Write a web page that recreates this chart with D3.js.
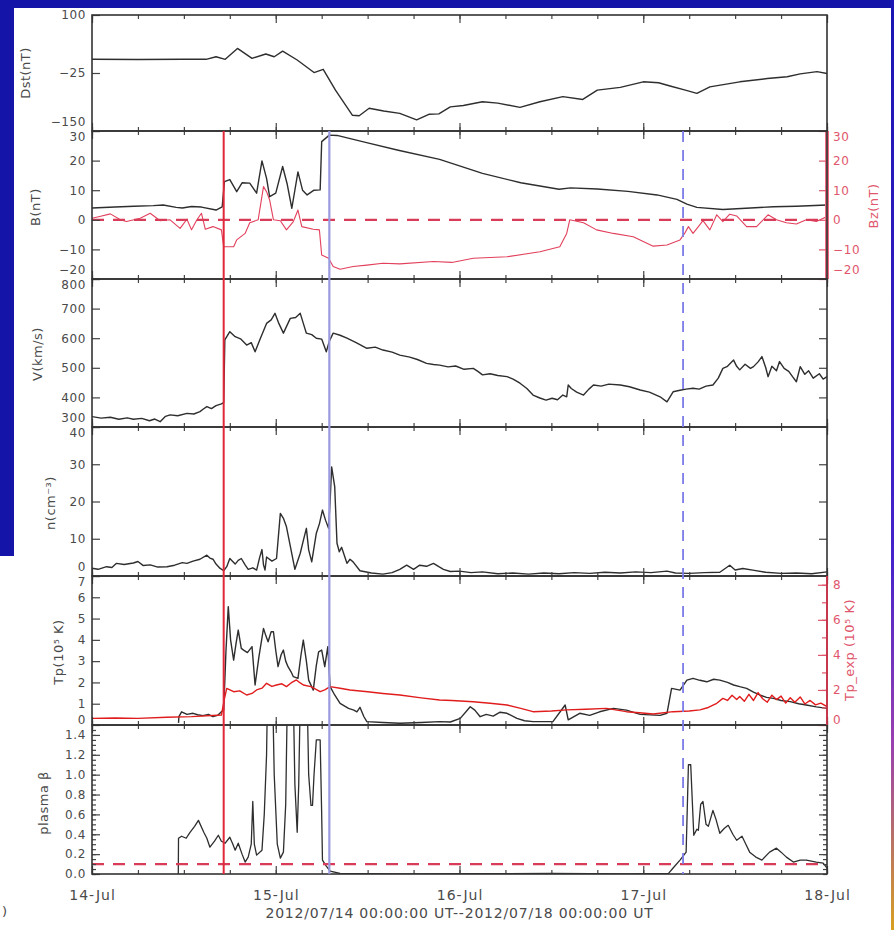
<!DOCTYPE html>
<html lang="en">
<head>
<meta charset="utf-8">
<title>Solar wind overview 2012/07/14 - 2012/07/18</title>
<script src="https://d3js.org/d3.v7.min.js"></script>
<style>
  body { margin: 0; background: #1414a8; }
  svg { display: block; }
  .tick text { font-family: "DejaVu Sans", sans-serif; font-size: 12px; fill: #4a4a4a; letter-spacing: 0.6px; }
  .tick line { stroke: #444; stroke-width: 1.2; }
  .title { font-family: "DejaVu Sans", sans-serif; font-size: 13px; fill: #4a4a4a; letter-spacing: 0.5px; }
  .red .tick text, .red-title { fill: #e0566c; }
  .red .tick line { stroke: #e0566c; }
</style>
</head>
<body>
<script>
// ---- data (hours since 2012-07-14 00:00 UT) ----
const dayLabels = ["14-Jul", "15-Jul", "16-Jul", "17-Jul", "18-Jul"];
const timeRangeLabel = "2012/07/14 00:00:00 UT--2012/07/18 00:00:00 UT";
const shockHour = 17.2, mcStartHour = 31.0, mcEndHour = 77.2;

const dst = [[0,4.5],[6,4],[12,4.5],[14.9,4.5],[16.2,10],[17.4,4.5],[19,28],[20.9,6.6],[22.7,16],[23.8,10],[24.9,22],
  [26.8,3],[29,-24],[30.2,-17],[31.8,-62],[34,-116],[34.9,-117],[36.2,-101],[38.1,-107],[40.2,-112],[42.4,-126],[44,-114],
  [45.3,-113],[46.8,-98],[48.5,-95],[51,-87],[53,-90],[55.9,-99],[58.5,-87],[61.5,-76],[64.1,-82],[66,-62],[69,-56],
  [72,-44],[74,-46],[75.5,-53],[77.5,-62],[79,-69],[80.7,-55],[84.6,-44],[88.2,-37],[90.8,-33],[92.5,-27],[94.7,-22],[96,-26]];

const bTotal = [[0,4],[3,4.3],[5.5,4.6],[8,4.8],[9.3,5],[11,4.2],[11.8,4],[13,4.5],[14.3,4.3],[16.2,3.3],[17,4.4],
  [17.3,12.9],[18,13.6],[18.9,9.5],[19.6,12.5],[20.6,12.4],[21.5,9],[22.2,19.9],[22.8,14],[23.2,7.8],[24,9],[24.9,18],
  [25.5,12],[26.1,3.9],[26.9,16.2],[27.5,10],[28.1,8.4],[29,10],[29.8,10.1],[30,26.4],[31,28.6],[32,28.5],[36,26],
  [40,23.5],[45.4,20.4],[51,15.7],[56,12.5],[61,10.3],[62.5,10.8],[66,10.4],[70,9.6],[73.8,8.4],[76.4,6.9],[77.7,5.3],
  [79,4.2],[82.4,3.5],[86,4.0],[89,4.4],[92,4.6],[96,5.0]];

const bz = [[0,0.5],[1,1.1],[2.4,2.0],[3.7,0],[4.5,-0.6],[6.3,0.5],[7.6,2.2],[8.9,-0.3],[10.2,0],[11.5,-2.9],[12.4,0.2],
  [13,-3.4],[13.7,0],[14.3,2.2],[14.8,-3.2],[15.8,-2.3],[16.9,-3.4],[17.2,-9.1],[18.5,-9.1],[18.9,-6.8],[20,-4.6],
  [20.6,-1.0],[21.7,0],[22.4,11.2],[22.8,9.5],[23.2,6.7],[23.7,0],[24.6,-0.3],[25.4,-3.4],[26.3,-0.6],[26.9,3.3],
  [27.4,-2.3],[28.9,-3.2],[29.7,-3.4],[30,-11.9],[30.9,-13],[31.5,-15.8],[32.4,-16.7],[34.1,-15.8],[35.9,-15.3],
  [38,-14.7],[40.2,-14.9],[44.6,-14.1],[47,-14.4],[49.8,-13],[54.2,-12.5],[58.5,-10.8],[61.1,-9.1],[62,-4.6],[62.4,0],
  [64.2,-1.0],[65.9,-3.4],[68.1,-4.6],[70.7,-5.7],[73.3,-8.9],[75.1,-8.5],[76.8,-6.8],[77.4,-4.6],[77.9,-2.3],[78.5,-4.6],
  [79.2,-2.3],[79.8,-0.3],[80.7,-3.4],[81.6,1.7],[82.4,-0.6],[83.3,1.9],[84.2,1.3],[85.5,-2.3],[86.8,-2.3],[88.3,1.7],
  [89.4,0],[90.7,-1.0],[92,-1.4],[93.3,0],[94.6,-0.6],[96,1.1]];

const speed = [[0,335],[1.2,330],[2.4,333],[3.5,326],[4.6,331],[5.4,326],[6.5,329],[7.5,321],[8.2,327],[8.9,318],[9.6,336],
  [10.2,341],[11.2,338],[12.4,346],[13.3,344],[14.1,352],[14.5,360],[15,369],[15.6,362],[16.2,372],[16.9,378],[17.2,382],
  [17.35,594],[18,622],[18.7,605],[19.4,598],[20.2,577],[20.8,585],[21.3,554],[22,600],[22.8,650],[23.4,662],[23.9,684],
  [24.4,650],[25,617],[25.5,645],[25.9,667],[26.6,670],[27.2,684],[27.6,650],[28,617],[28.7,612],[29.3,600],[30,597],
  [30.6,554],[31,590],[31.5,617],[32.4,610],[33.3,600],[34.5,585],[35.9,566],[37,570],[38,560],[39.2,553],[40.2,543],
  [41.5,536],[42.5,528],[43.7,515],[44.6,511],[45.4,509],[46.5,503],[47.5,506],[48.6,495],[49.8,498],[50.4,488],[51,476],
  [52,480],[53,474],[54.2,470],[55,462],[55.9,448],[56.8,430],[57.6,408],[58.5,398],[59.3,391],[60.1,397],[60.8,392],
  [61.5,408],[62,402],[62.2,442],[62.6,430],[63.3,418],[64.2,408],[64.9,428],[65.5,442],[66.5,438],[67.5,445],[69,442],
  [70.2,436],[71.6,425],[72.8,418],[74.2,402],[75.1,385],[75.9,419],[76.8,424],[77.6,428],[78.5,431],[79.3,428],[80.2,438],
  [81.1,442],[81.8,465],[82.4,498],[83,505],[83.8,526],[84.2,505],[84.6,493],[85.3,512],[86,498],[86.4,504],[87,520],
  [87.5,538],[88,500],[88.3,470],[88.8,505],[89.4,490],[89.8,521],[90.4,498],[91,488],[91.5,470],[92,453],[92.5,504],
  [93.1,478],[93.6,490],[94.2,465],[95,480],[95.5,462],[96,470]];

const density = [[0,2.1],[0.8,1.8],[1.9,2.5],[2.6,2.3],[3.2,3.4],[4.2,3.1],[5.4,3.5],[6,3.9],[6.7,2.8],[7.6,3.0],[8.6,2.4],
  [9.8,2.5],[10.8,2.9],[11.8,3.6],[12.4,3.4],[13.2,4.0],[14.1,4.5],[15,5.6],[15.4,4.8],[15.8,4.5],[16.2,3.2],[16.7,2.1],
  [17.2,1.4],[17.6,2.5],[18,4.7],[18.7,3.2],[19.1,4.2],[19.5,4.7],[20,3.0],[20.4,1.8],[21,2.2],[21.5,1.6],[21.9,5.0],
  [22.2,7.1],[22.4,3.0],[22.6,1.6],[22.8,5.1],[23.5,4.0],[24.1,4.7],[24.6,16.8],[25,15.5],[25.4,13.2],[25.9,8.0],
  [26.5,1.8],[27.2,6.1],[27.6,9.5],[28,12.8],[28.3,7.0],[28.7,3.8],[29.3,11.5],[29.7,14.0],[30.1,17.7],[30.5,15.0],
  [30.9,12.8],[31.1,20.0],[31.3,29.3],[31.7,24.0],[32,8.8],[32.3,6.5],[32.6,7.7],[33.3,3.4],[33.7,4.5],[34.1,3.8],
  [35,1.4],[36.5,0.8],[38,0.5],[39.2,0.9],[40.2,1.8],[41.1,2.9],[42,1.8],[42.8,2.9],[43.7,2.6],[44.6,3.4],[45.3,2.5],
  [45.9,1.8],[46.8,1.2],[48,1.3],[49.5,0.9],[51,1.1],[53,0.6],[55,0.8],[57,0.5],[59,0.8],[61,0.6],[63,0.9],[65,0.7],
  [67,1.0],[69,0.8],[71,1.1],[73,0.9],[75.1,1.3],[76.2,0.8],[78,0.7],[80,0.9],[82,1.0],[83.3,2.9],[84,1.6],[85,2.0],
  [86.5,1.5],[88,1.0],[90,0.7],[92,0.8],[94,0.6],[96,1.1]];

const tp = [[11.3,0.1],[11.35,0.39],[11.7,0.62],[12.4,0.5],[13.2,0.55],[13.8,0.48],[14.5,0.44],[15.2,0.5],[15.8,0.39],
  [16.4,0.45],[16.9,0.62],[17.2,0.7],[17.5,3.5],[17.8,5.56],[18.1,4.0],[18.5,3.05],[18.8,3.8],[19.1,4.46],[19.5,3.6],
  [19.8,3.52],[20.3,3.4],[20.9,3.68],[21.3,1.88],[21.8,3.2],[22.4,4.54],[22.7,4.2],[23,3.91],[23.4,4.38],[23.7,4.38],
  [24,3.5],[24.3,2.74],[24.7,3.3],[25,3.52],[25.3,3.0],[25.6,2.74],[26,2.5],[26.3,2.27],[26.9,2.19],[27.3,3.3],[27.6,3.99],
  [28,3.0],[28.3,2.11],[28.9,1.64],[29.3,2.8],[29.6,3.44],[30,3.52],[30.4,2.74],[30.8,3.68],[31.1,1.8],[31.7,1.41],
  [32.4,1.02],[33.5,0.78],[34.2,0.7],[34.6,0.62],[35,0.83],[35.5,0.4],[35.9,0.16],[38,0.12],[40.2,0.08],[43,0.12],
  [45.4,0.16],[46.8,0.14],[48.1,0.31],[49.4,0.86],[50,0.7],[50.7,0.39],[51.5,0.5],[52.4,0.42],[53.3,0.6],[54.2,0.55],
  [55.5,0.31],[56.5,0.2],[57.6,0.16],[60.2,0.16],[61.8,0.94],[62.2,0.24],[63.7,0.55],[65,0.45],[66.3,0.62],[68.1,0.78],
  [69.8,0.7],[71.6,0.5],[74.2,0.45],[75.1,0.55],[75.7,1.72],[76.8,1.64],[77.7,2.11],[78.5,2.19],[79.4,2.1],[80.3,2.03],
  [81.2,2.15],[82,2.11],[83,2.0],[83.8,1.88],[84.6,1.8],[85.5,1.72],[86.4,1.55],[87.2,1.41],[88.1,1.3],[89,1.25],
  [90,1.15],[91.2,1.1],[92.3,1.0],[93.3,0.94],[94.6,0.85],[96,0.78]];

const tpExp = [[0,0.38],[3,0.4],[6,0.38],[9.8,0.44],[13,0.48],[16.9,0.57],[17.3,1.5],[17.6,2.09],[18.5,1.9],[19.3,1.95],
  [20.2,1.71],[20.9,1.8],[21.5,2.0],[22.2,2.1],[22.8,2.38],[23.5,2.2],[24.1,2.28],[24.8,2.35],[25.4,2.19],[26,2.4],
  [26.7,2.57],[27.2,2.4],[27.6,2.28],[28.6,2.19],[29.2,2.05],[29.8,1.9],[30.4,2.0],[31.1,2.19],[32.4,2.1],[33.7,2.0],
  [36,1.9],[38,1.8],[40.2,1.71],[43,1.55],[45.4,1.43],[47,1.4],[49.8,1.33],[52,1.24],[54.2,1.14],[56,0.95],[57.6,0.76],
  [60,0.8],[62,0.86],[64.5,0.9],[67.2,0.95],[69.8,0.76],[71.5,0.7],[73.3,0.63],[75.9,0.76],[78,0.8],[79.4,0.86],
  [80.5,1.0],[81.6,1.24],[82.4,1.52],[83,1.4],[83.6,1.7],[84.2,1.45],[84.6,1.62],[85.2,1.35],[85.8,1.75],[86.4,1.4],
  [87,1.85],[87.6,1.5],[88.2,1.3],[88.8,1.7],[89.4,1.45],[90,1.65],[90.6,1.25],[91.2,1.55],[91.8,1.3],[92.5,1.6],
  [93.1,1.2],[93.8,1.4],[94.5,1.15],[95.2,1.25],[96,1.05]];

const beta = [[11.27,0],[11.3,0.36],[11.7,0.38],[12.3,0.36],[12.8,0.42],[13.4,0.48],[13.9,0.54],[14.6,0.42],[15,0.36],
  [15.4,0.27],[16,0.33],[16.5,0.39],[16.9,0.33],[17.4,0.31],[18,0.37],[18.4,0.3],[18.7,0.24],[19.1,0.31],[19.6,0.2],
  [20,0.12],[20.4,0.17],[20.8,0.3],[21,0.73],[21.2,0.3],[21.5,0.19],[22.2,0.24],[22.5,0.6],[22.8,1.2],[23,2.2],[23.5,2.2],
  [23.8,1.0],[24.2,0.3],[24.6,0.16],[25,0.22],[25.3,0.7],[25.6,2.2],[26.2,2.2],[26.5,0.9],[26.8,0.42],[27,0.9],[27.3,2.2],
  [28,2.2],[28.3,1.0],[28.6,0.69],[28.8,0.69],[29,1.0],[29.3,1.35],[29.8,1.35],[30,0.6],[30.1,0.14],[30.6,0.08],
  [31.1,0.03],[32.4,0.005],[40,0],[50,0.004],[60,0.005],[70,0],[75.3,0.007],[75.9,0.06],[76.8,0.14],[77.6,0.22],
  [77.9,1.10],[78.2,1.10],[78.6,0.39],[79,0.45],[79.2,0.44],[79.5,0.7],[79.8,0.73],[80.2,0.5],[80.5,0.48],[81.1,0.64],
  [81.5,0.55],[82,0.41],[82.6,0.46],[83.1,0.49],[83.7,0.4],[84.2,0.34],[84.9,0.38],[85.4,0.3],[85.9,0.22],[86.7,0.17],
  [87.5,0.14],[88.5,0.22],[89.4,0.26],[90,0.22],[90.7,0.17],[91.6,0.12],[92.5,0.14],[93.3,0.14],[94.6,0.12],[95.5,0.11],[96,0.06]];

const betaRef = 0.1;

// ---- layout ----
const W = 894, H = 930;
const left = 92, right = 827;
const edges = [15, 131, 279, 427, 576, 725, 874];

const svg = d3.select("body").append("svg").attr("width", W).attr("height", H);
const defs = svg.append("defs");

// slide background
svg.append("rect").attr("width", W).attr("height", H).attr("fill", "#1414a8");
const grad = defs.append("linearGradient").attr("id", "edge").attr("x1", 0).attr("x2", 0).attr("y1", 0).attr("y2", 1);
grad.append("stop").attr("offset", "0").attr("stop-color", "#1a14b4");
grad.append("stop").attr("offset", "0.6").attr("stop-color", "#4422cc");
grad.append("stop").attr("offset", "0.8").attr("stop-color", "#9a40b0");
grad.append("stop").attr("offset", "1").attr("stop-color", "#d8a020");
svg.append("rect").attr("x", 891).attr("width", 3).attr("height", H).attr("fill", "url(#edge)");
svg.append("path").attr("d", "M14,8H891V930H0V556H14Z").attr("fill", "#fff");
svg.append("text").attr("class", "title").attr("x", 2).attr("y", 916).text(")");

const x = d3.scaleLinear().domain([0, 96]).range([left, right]);

function makePanel(i, domain) {
  const top = edges[i], bottom = edges[i + 1];
  const y = d3.scaleLinear().domain(domain).range([bottom, top]);
  defs.append("clipPath").attr("id", "clip" + i)
    .append("rect").attr("x", left).attr("y", top).attr("width", right - left).attr("height", bottom - top);
  return { y, top, bottom, clip: "url(#clip" + i + ")" };
}

const pDst = makePanel(0, [-150, 100]);
const pB = makePanel(1, [-20, 30]);
const pV = makePanel(2, [300, 800]);
const pN = makePanel(3, [0, 40]);
const pT = makePanel(4, [0, 7]);
const tpExpY = d3.scaleLinear().domain([0, 8.5]).range([pT.bottom, pT.top]);
const pBeta = makePanel(5, [0, 1.5]);
const panels = [pDst, pB, pV, pN, pT, pBeta];

function drawLine(p, data, yScale, color, width) {
  svg.append("path").datum(data)
    .attr("clip-path", p.clip)
    .attr("fill", "none")
    .attr("stroke", color)
    .attr("stroke-width", width)
    .attr("stroke-linejoin", "round")
    .attr("d", d3.line().x(d => x(d[0])).y(d => yScale(d[1])));
}

// ---- curves ----
drawLine(pDst, dst, pDst.y, "#2e2e2e", 1.4);
drawLine(pB, bz, pB.y, "#e2405c", 1.1);
drawLine(pB, bTotal, pB.y, "#2e2e2e", 1.4);
drawLine(pV, speed, pV.y, "#2e2e2e", 1.4);
drawLine(pN, density, pN.y, "#2e2e2e", 1.4);
drawLine(pT, tp, pT.y, "#2e2e2e", 1.4);
drawLine(pT, tpExp, tpExpY, "#e01c1c", 1.4);
drawLine(pBeta, beta, pBeta.y, "#2e2e2e", 1.3);

// dashed reference lines
[[pB, 0], [pBeta, betaRef]].forEach(([p, v]) => {
  svg.append("line").attr("x1", left).attr("x2", right)
    .attr("y1", p.y(v)).attr("y2", p.y(v))
    .attr("stroke", "#d83c58").attr("stroke-width", 2.2).attr("stroke-dasharray", "12,9");
});

// ---- axes ----
const minorHours = d3.range(0, 97, 6);
const dayHours = [0, 24, 48, 72, 96];

panels.forEach((p, i) => {
  const last = i === panels.length - 1;
  const clean = g => g.select(".domain").remove();
  svg.append("g").attr("transform", `translate(0,${p.bottom})`)
    .call(d3.axisBottom(x).tickValues(minorHours).tickSize(-4).tickFormat("")).call(clean);
  svg.append("g").attr("transform", `translate(0,${p.bottom})`)
    .call(d3.axisBottom(x).tickValues(dayHours).tickSize(-8).tickPadding(16)
      .tickFormat((d, k) => last ? dayLabels[k] : "")).call(clean)
    .selectAll("text").style("font-size", "14px").style("letter-spacing", "1px");
  svg.append("g").attr("transform", `translate(0,${p.top})`)
    .call(d3.axisTop(x).tickValues(minorHours).tickSize(-4).tickFormat("")).call(clean);
  svg.append("g").attr("transform", `translate(0,${p.top})`)
    .call(d3.axisTop(x).tickValues(dayHours).tickSize(-8).tickFormat("")).call(clean);
});

// labels sitting on a panel edge are pulled inside the panel a little,
// so the stacked panels do not print over each other
function nudge(g, hiVal, hiDy, loVal, loDy) {
  g.selectAll(".tick text").attr("dy", d => d === hiVal ? hiDy : d === loVal ? loDy : "0.32em");
}

function leftAxis(p, ticks, fmt, hiDy, loDy, minor) {
  const clean = g => g.select(".domain").remove();
  if (minor) {
    svg.append("g").attr("transform", `translate(${left},0)`)
      .call(d3.axisLeft(p.y).tickValues(minor).tickSize(-4).tickFormat("")).call(clean);
    svg.append("g").attr("transform", `translate(${right},0)`)
      .call(d3.axisRight(p.y).tickValues(minor).tickSize(-4).tickFormat("")).call(clean);
  }
  svg.append("g").attr("transform", `translate(${left},0)`)
    .call(d3.axisLeft(p.y).tickValues(ticks).tickSizeInner(-8).tickSizeOuter(0).tickPadding(6).tickFormat(fmt))
    .call(clean).call(g => nudge(g, d3.max(ticks), hiDy, d3.min(ticks), loDy));
}
function mirrorAxis(p, ticks) {
  svg.append("g").attr("transform", `translate(${right},0)`)
    .call(d3.axisRight(p.y).tickValues(ticks).tickSize(-8).tickFormat("")).call(g => g.select(".domain").remove());
}

const intFmt = d => d3.format("d")(d).replace("-", "\u2212");
leftAxis(pDst, [100, -25, -150], intFmt, "0.32em", "-0.45em");
leftAxis(pB, [30, 20, 10, 0, -10, -20], intFmt, "0.8em", "-0.45em");
leftAxis(pV, [800, 700, 600, 500, 400, 300], intFmt, "0.8em", "-0.45em");
mirrorAxis(pV, [700, 600, 500, 400]);
leftAxis(pN, [40, 30, 20, 10, 0], intFmt, "0.8em", "-0.45em");
mirrorAxis(pN, [30, 20, 10]);
leftAxis(pT, [0, 1, 2, 3, 4, 5, 6, 7], intFmt, "0.8em", "-0.15em");
leftAxis(pBeta, [0, 0.2, 0.4, 0.6, 0.8, 1.0, 1.2, 1.4], d3.format(".1f"), "0.32em", "0.32em", d3.range(0, 1.5, 0.05));
mirrorAxis(pBeta, [0.2, 0.4, 0.6, 0.8, 1.0, 1.2, 1.4]);

// red right axes
svg.append("rect").attr("x", right - 2).attr("y", pB.top).attr("width", 4).attr("height", pB.bottom - pB.top)
  .attr("fill", "#ee6c82");
svg.append("g").attr("class", "red").attr("transform", `translate(${right},0)`)
  .call(d3.axisRight(pB.y).tickValues([30, 20, 10, 0, -10, -20]).tickSizeInner(-8).tickSizeOuter(0).tickPadding(6).tickFormat(intFmt))
  .call(g => g.select(".domain").remove()).call(g => nudge(g, 30, "0.8em", -20, "-0.45em"));
svg.append("g").attr("class", "red").attr("transform", `translate(${right},0)`)
  .call(d3.axisRight(tpExpY).tickValues(d3.range(0, 8.5, 1)).tickSize(-5).tickFormat(""))
  .call(g => g.select(".domain").remove());
svg.append("g").attr("class", "red").attr("transform", `translate(${right},0)`)
  .call(d3.axisRight(tpExpY).tickValues([0, 2, 4, 6, 8]).tickSizeInner(-9).tickSizeOuter(0).tickPadding(6).tickFormat(intFmt))
  .call(g => g.select(".domain").remove()).call(g => nudge(g, 8, "0.32em", 0, "-0.15em"));

// frames
panels.forEach(p => {
  svg.append("rect").attr("x", left).attr("y", p.top).attr("width", right - left).attr("height", p.bottom - p.top)
    .attr("fill", "none").attr("stroke", "#333").attr("stroke-width", 1.6);
});
svg.append("line").attr("x1", right).attr("x2", right).attr("y1", pT.top).attr("y2", pT.bottom)
  .attr("stroke", "#e0304a").attr("stroke-width", 1.6);

// event markers
const markTop = edges[1], markBottom = edges[6];
svg.append("line").attr("x1", x(shockHour)).attr("x2", x(shockHour)).attr("y1", markTop).attr("y2", markBottom)
  .attr("stroke", "#e0283a").attr("stroke-width", 2);
svg.append("line").attr("x1", x(mcStartHour)).attr("x2", x(mcStartHour)).attr("y1", markTop).attr("y2", markBottom)
  .attr("stroke", "#9a9ae0").attr("stroke-width", 2.2);
svg.append("line").attr("x1", x(mcEndHour)).attr("x2", x(mcEndHour)).attr("y1", markTop).attr("y2", markBottom)
  .attr("stroke", "#7c7ce8").attr("stroke-width", 1.8).attr("stroke-dasharray", "11,8");

// axis titles
const titles = [
  ["Dst(nT)", 25, 73, false],
  ["B(nT)", 35, 207, false],
  ["V(km/s)", 37, 354, false],
  ["n(cm\u207B\u00B3)", 50, 503, false],
  ["Tp(10\u2075 K)", 58, 652, false],
  ["plasma \u03B2", 43, 803, false],
  ["Bz(nT)", 873, 206, true],
  ["Tp_exp (10\u2075 K)", 849, 650, true]
];
titles.forEach(([t, tx, ty, red]) => {
  svg.append("text").attr("class", red ? "title red-title" : "title")
    .attr("transform", `translate(${tx},${ty}) rotate(-90)`)
    .attr("text-anchor", "middle").attr("dy", "0.35em").text(t);
});

svg.append("text").attr("class", "title")
  .attr("x", (left + right) / 2).attr("y", 918).attr("text-anchor", "middle")
  .style("font-size", "14px").style("letter-spacing", "0.8px")
  .text(timeRangeLabel);
</script>
</body>
</html>
